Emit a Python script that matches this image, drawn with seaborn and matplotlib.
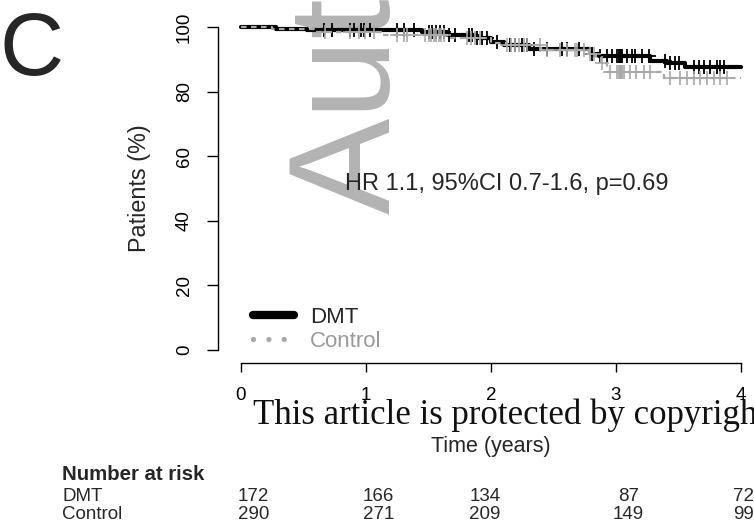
import numpy as np
import pandas as pd
import matplotlib
matplotlib.use("Agg")
import matplotlib.pyplot as plt
import matplotlib.transforms as mtransforms
from matplotlib.lines import Line2D
import seaborn as sns

# Kaplan-Meier steps (time in years, % patients)
dmt_time = [0, 0.28, 0.53, 1.45, 1.65, 1.88, 2.00, 2.10, 2.30, 2.80, 2.86, 3.27, 3.41, 3.55, 4.00]
dmt_surv = [100, 99.5, 99.0, 98.3, 97.5, 96.6, 95.5, 94.4, 93.3, 91.7, 91.0, 89.5, 88.7, 87.5, 87.5]

ctl_time = [0, 0.25, 0.58, 1.12, 1.65, 2.00, 2.12, 2.40, 2.78, 2.84, 2.88, 2.93, 3.38, 4.00]
ctl_surv = [100, 99.4, 98.3, 97.5, 96.5, 95.2, 94.4, 93.0, 91.5, 90.4, 88.9, 86.2, 84.3, 84.3]

# censoring times
dmt_cens = [0.66, 0.73, 0.87, 0.90, 0.96, 0.98, 1.03, 1.25, 1.30, 1.38, 1.50, 1.53, 1.56,
            1.59, 1.62, 1.66, 1.71, 1.82, 1.85, 1.89, 1.93, 1.97, 2.05, 2.15, 2.19, 2.25,
            2.29, 2.34, 2.45, 2.57, 2.61, 2.70, 2.81, 2.87, 2.93, 2.97, 3.01, 3.02, 3.03,
            3.04, 3.05, 3.09, 3.13, 3.15, 3.21, 3.26, 3.39, 3.43, 3.47, 3.50, 3.62, 3.66,
            3.70, 3.75, 3.81, 3.83, 3.86]
ctl_cens = [0.67, 0.87, 0.94, 0.99, 1.06, 1.25, 1.30, 1.33, 1.47, 1.50, 1.52, 1.54, 1.56,
            1.58, 1.60, 1.62, 1.81, 1.84, 1.87, 1.91, 2.13, 2.16, 2.19, 2.22, 2.26, 2.29,
            2.39, 2.45, 2.55, 2.61, 2.67, 2.69, 2.74, 2.79, 2.82, 2.89, 2.95, 3.01, 3.02,
            3.03, 3.04, 3.05, 3.06, 3.11, 3.16, 3.22, 3.27, 3.43, 3.51, 3.57, 3.62, 3.67,
            3.73, 3.78, 3.83, 3.89]

groups = ["DMT", "Control"]
risk_times = [0, 1, 2, 3, 4]
risk_dmt = [172, 166, 134, 87, 72]
risk_ctl = [290, 271, 209, 149, 99]
hr_text = "HR 1.1, 95%CI 0.7-1.6, p=0.69"

# where the at-risk numbers sit (x in years, as in the original layout)
risk_pos = [0.10, 1.10, 1.95, 3.10, 4.02]

BLACK = "black"
GREY = "#a8a8a8"

sns.set_style("ticks")
plt.rcParams["font.family"] = ["Liberation Sans", "DejaVu Sans"]

W, H = 754, 529
fig = plt.figure(figsize=(W / 100, H / 100), dpi=100)
ax = fig.add_axes([241 / W, 179 / H, 500 / W, 323 / H])


def at_time(times, surv, t):
    idx = np.searchsorted(times, t, side="right") - 1
    return np.asarray(surv)[idx]


df_dmt = pd.DataFrame({"time": dmt_time, "surv": dmt_surv})
df_ctl = pd.DataFrame({"time": ctl_time, "surv": ctl_surv})

sns.lineplot(data=df_dmt, x="time", y="surv", ax=ax, color=BLACK, lw=3,
             drawstyle="steps-post", estimator=None, clip_on=False, zorder=3)
ax.plot(dmt_cens, at_time(dmt_time, dmt_surv, dmt_cens), ls="none", marker="+",
        ms=10, mew=1.3, color=BLACK, clip_on=False, zorder=3)

sns.lineplot(data=df_ctl, x="time", y="surv", ax=ax, color=GREY, lw=1.6,
             linestyle=(0, (2.5, 2)), drawstyle="steps-post", estimator=None,
             clip_on=False, zorder=4)
ax.plot(ctl_cens, at_time(ctl_time, ctl_surv, ctl_cens), ls="none", marker="+",
        ms=10, mew=1.2, color=GREY, clip_on=False, zorder=4)

# axes in R style
ax.set_xlim(0, 4)
ax.set_ylim(0, 100)
ax.set_xticks(range(0, 5))
ax.set_yticks(range(0, 101, 20))
for side in ["top", "right"]:
    ax.spines[side].set_visible(False)
ax.spines["left"].set_bounds(0, 100)
ax.spines["left"].set_position(("outward", 16.5))
ax.spines["bottom"].set_bounds(0, 4)
ax.spines["bottom"].set_position(("outward", 9.5))
for side in ["left", "bottom"]:
    ax.spines[side].set_color("black")
    ax.spines[side].set_linewidth(1)
ax.tick_params(axis="y", length=8, width=1, pad=10, labelsize=13.5, colors="black")
ax.tick_params(axis="x", length=6.5, width=1, pad=11, labelsize=13.5, colors="black")
for lab in ax.get_yticklabels():
    lab.set_rotation(90)
    lab.set_va("center")

ax.set_xlabel("Time (years)", fontsize=15.5)
ax.xaxis.set_label_coords(0.5, -0.265)
ax.set_ylabel("Patients (%)", fontsize=16.8)
ax.yaxis.set_label_coords(-0.18, 0.5)

fig.text(345 / W, 1 - 184 / H, hr_text, fontsize=17, va="center", ha="left")

# legend
handles = [
    Line2D([], [], color=BLACK, lw=6, solid_capstyle="round"),
    Line2D([], [], color=GREY, lw=3.8, linestyle=(0, (0.01, 2.9)), dash_capstyle="round"),
]
leg = ax.legend(handles, groups, loc="center left",
                bbox_to_anchor=(253 / W, 1 - 329.5 / H), bbox_transform=fig.transFigure,
                frameon=False, fontsize=16, handlelength=1.85, handletextpad=0.7,
                labelspacing=0.12, borderpad=0, borderaxespad=0)
leg.get_texts()[1].set_color("#9a9a9a")

# number at risk table
trans = mtransforms.blended_transform_factory(ax.transData, fig.transFigure)
fig.text(62 / W, 1 - 480 / H, "Number at risk", fontsize=14.7, fontweight="bold", va="baseline")
fig.text(62 / W, 1 - 501 / H, groups[0], fontsize=13.5, va="baseline")
fig.text(62 / W, 1 - 519 / H, groups[1], fontsize=13.5, va="baseline")
for x, a, b in zip(risk_pos, risk_dmt, risk_ctl):
    ax.text(x, 1 - 501 / H, str(a), transform=trans, ha="center", va="baseline",
            fontsize=13.5, clip_on=False)
    ax.text(x, 1 - 519 / H, str(b), transform=trans, ha="center", va="baseline",
            fontsize=13.5, clip_on=False)

# panel letter and the manuscript watermarks
fig.text(0 / W, 1 - 75 / H, "C", fontsize=64, va="baseline", ha="left")
ax.text(390 / W, 1 - 214 / H, "Aut", transform=fig.transFigure, rotation=90,
        rotation_mode="anchor", ha="left", va="baseline", fontsize=104,
        color="#b3b3b3", zorder=0, clip_on=False)
ax.text(253 / W, 1 - 424 / H, "This article is protected by copyright", transform=fig.transFigure,
        family=["Liberation Serif", "DejaVu Serif"], fontsize=25, color="#111111",
        va="baseline", ha="left", zorder=0, clip_on=False)

fig.savefig("out.png", dpi=100)
